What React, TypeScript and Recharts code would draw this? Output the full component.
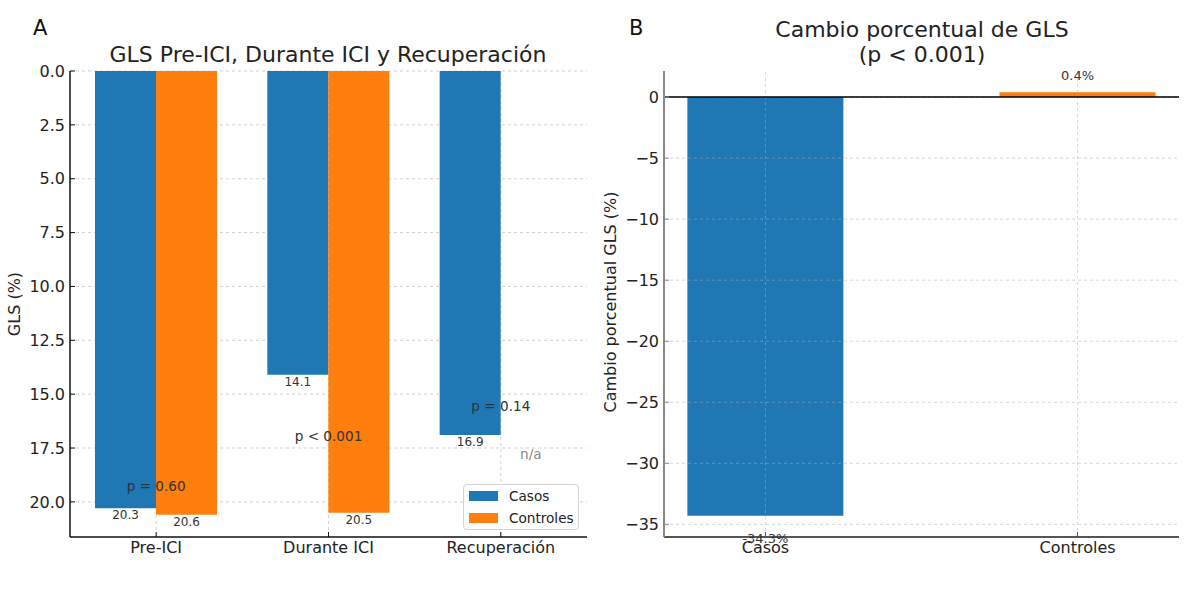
import {
  Bar,
  BarChart,
  CartesianGrid,
  Cell,
  LabelList,
  Legend,
  ReferenceDot,
  ReferenceLine,
  XAxis,
  YAxis,
} from "recharts";

// panel A: GLS by phase
const categories = ["Pre-ICI", "Durante ICI", "Recuperación"];
const casosGLS = [20.3, 14.1, 16.9];
const controlesGLS: (number | null)[] = [20.6, 20.5, null];
const glsTicks = [0, 2.5, 5, 7.5, 10, 12.5, 15, 17.5, 20];
const pTexts = ["p = 0.60", "p < 0.001", "p = 0.14"];
const pTextY = [19.26, 16.95, 15.56];
const naTextY = 17.8;

// panel B: percent change
const groups = ["Casos", "Controles"];
const cambio = [-34.3, 0.4];
const cambioTicks = [0, -5, -10, -15, -20, -25, -30, -35];

const BLUE = "#1f77b4";
const ORANGE = "#ff7f0e";
const FONT = "'DejaVu Sans', sans-serif";

const glsData = categories.map((name, i) => ({
  name,
  casos: casosGLS[i],
  controles: controlesGLS[i],
}));

const cambioData = groups.map((name, i) => ({ x: i, name, value: cambio[i] }));

const BelowLabel = (props: any) => {
  const { x, y, width, height, value } = props;
  if (value == null) return null;
  const end = Math.max(Number(y), Number(y) + Number(height));
  return (
    <text
      x={Number(x) + Number(width) / 2}
      y={end + 11}
      textAnchor="middle"
      fontSize={12}
      fill="#333"
    >
      {Number(value).toFixed(1)}
    </text>
  );
};

const PctLabel = (props: any) => {
  const { x, y, width, height, value } = props;
  const top = Math.min(Number(y), Number(y) + Number(height));
  const bottom = Math.max(Number(y), Number(y) + Number(height));
  const ty = value >= 0 ? top - 12 : bottom + 27;
  return (
    <text
      x={Number(x) + Number(width) / 2}
      y={ty}
      textAnchor="middle"
      fontSize={13}
      fill="#333"
    >
      {`${Number(value).toFixed(1)}%`}
    </text>
  );
};

const LegendBox = ({ payload }: any) => (
  <div
    style={{
      border: "1px solid #d4d4d4",
      borderRadius: 4,
      background: "rgba(255,255,255,0.85)",
      width: 114,
      height: 44,
      boxSizing: "content-box",
      fontFamily: FONT,
      fontSize: 13.6,
      color: "#222",
    }}
  >
    {(payload || []).map((p: any, i: number) => (
      <div
        key={i}
        style={{ display: "flex", alignItems: "center", height: 22 }}
      >
        <span
          style={{
            display: "inline-block",
            width: 29,
            height: 10,
            marginLeft: 5,
            marginRight: 11,
            background: p.color,
          }}
        />
        <span>{p.value}</span>
      </div>
    ))}
  </div>
);

const tickStyle = { fill: "#222", fontSize: 16 };

// grid for panel B sits on top of the bars, like the source figure
const gridLine = { stroke: "#b0b0b0", strokeOpacity: 0.5, strokeDasharray: "3 3" };

export default function App() {
  return (
    <div
      style={{
        position: "absolute",
        left: 0,
        top: 0,
        width: 1200,
        height: 599,
        background: "#fff",
        fontFamily: FONT,
      }}
    >
      <div style={{ position: "absolute", left: 0, top: 0 }}>
        <BarChart
          width={600}
          height={599}
          data={glsData}
          margin={{ top: 71, right: 13, bottom: 32, left: 20 }}
          barGap={0}
        >
          <CartesianGrid stroke="#d0d0d0" strokeDasharray="3 3" syncWithTicks />
          <XAxis
            dataKey="name"
            height={30}
            tick={tickStyle}
            tickSize={-5}
            tickMargin={10}
            axisLine={{ stroke: "#111", strokeWidth: 1.5 }}
            tickLine={{ stroke: "#111" }}
          />
          <YAxis
            reversed
            width={50}
            domain={[0, 21.63]}
            ticks={glsTicks}
            interval={0}
            tickFormatter={(v) => Number(v).toFixed(1)}
            tick={tickStyle}
            tickSize={-5}
            tickMargin={10}
            axisLine={{ stroke: "#111", strokeWidth: 1.5 }}
            tickLine={{ stroke: "#111" }}
            allowDataOverflow
          />
          <Bar
            dataKey="casos"
            name="Casos"
            fill={BLUE}
            barSize={61}
            isAnimationActive={false}
          >
            <LabelList dataKey="casos" content={BelowLabel} />
          </Bar>
          <Bar
            dataKey="controles"
            name="Controles"
            fill={ORANGE}
            barSize={61}
            isAnimationActive={false}
          >
            <LabelList dataKey="controles" content={BelowLabel} />
          </Bar>
          {categories.map((c, i) => (
            <ReferenceDot
              key={c}
              x={c}
              y={pTextY[i]}
              r={0}
              fill="none"
              stroke="none"
              ifOverflow="visible"
              label={{
                value: pTexts[i],
                position: "center",
                fill: "#333",
                fontSize: 13.6,
              }}
            />
          ))}
          <ReferenceDot
            x={categories[2]}
            y={naTextY}
            r={0}
            fill="none"
            stroke="none"
            ifOverflow="visible"
            label={{
              value: "n/a",
              position: "center",
              fill: "#888",
              fontSize: 13.6,
              dx: 30,
            }}
          />
          <Legend
            layout="horizontal"
            verticalAlign="middle"
            align="center"
            content={LegendBox}
            wrapperStyle={{ left: 463, top: 484, width: 116 }}
          />
          <text x={33} y={35} fontSize={21} fill="#111">
            A
          </text>
          <text x={328} y={62} fontSize={22} fill="#222" textAnchor="middle">
            GLS Pre-ICI, Durante ICI y Recuperación
          </text>
          <text
            x={14}
            y={304}
            fontSize={16}
            fill="#222"
            textAnchor="middle"
            dominantBaseline="central"
            transform="rotate(-90 14 304)"
          >
            GLS (%)
          </text>
        </BarChart>
      </div>

      <div style={{ position: "absolute", left: 600, top: 0 }}>
        <BarChart
          width={600}
          height={599}
          data={cambioData}
          margin={{ top: 71, right: 21, bottom: 32, left: 20 }}
        >
          <XAxis
            type="number"
            dataKey="x"
            domain={[-0.325, 1.325]}
            ticks={[0, 1]}
            interval={0}
            tickFormatter={(v) => groups[Number(v)] ?? ""}
            height={30}
            tick={tickStyle}
            tickSize={-5}
            tickMargin={10}
            axisLine={{ stroke: "#555", strokeWidth: 2 }}
            tickLine={{ stroke: "#555" }}
            allowDataOverflow
          />
          <YAxis
            width={44}
            domain={[-36.035, 2.135]}
            ticks={cambioTicks}
            interval={0}
            tickFormatter={(v) => (v < 0 ? `\u2212${Math.abs(v)}` : `${v}`)}
            tick={tickStyle}
            tickSize={-5}
            tickMargin={10}
            axisLine={{ stroke: "#888", strokeWidth: 2 }}
            tickLine={{ stroke: "#888" }}
            allowDataOverflow
          />
          <Bar
            dataKey="value"
            barSize={156}
            isAnimationActive={false}
          >
            {cambioData.map((d, i) => (
              <Cell key={d.name} fill={i === 0 ? BLUE : ORANGE} />
            ))}
            <LabelList dataKey="value" content={PctLabel} />
          </Bar>
          {cambioTicks.map((t) => (
            <ReferenceLine key={`h${t}`} y={t} {...gridLine} />
          ))}
          {cambioData.map((d) => (
            <ReferenceLine key={`v${d.x}`} x={d.x} {...gridLine} />
          ))}
          <ReferenceLine y={0} stroke="#000" strokeWidth={1.5} />
          <text x={29} y={35} fontSize={21} fill="#111">
            B
          </text>
          <text x={322} y={37} fontSize={22} fill="#222" textAnchor="middle">
            Cambio porcentual de GLS
          </text>
          <text x={322} y={62} fontSize={22} fill="#222" textAnchor="middle">
            (p &lt; 0.001)
          </text>
          <text
            x={10}
            y={302}
            fontSize={16}
            fill="#222"
            textAnchor="middle"
            dominantBaseline="central"
            transform="rotate(-90 10 302)"
          >
            Cambio porcentual GLS (%)
          </text>
        </BarChart>
      </div>
    </div>
  );
}
